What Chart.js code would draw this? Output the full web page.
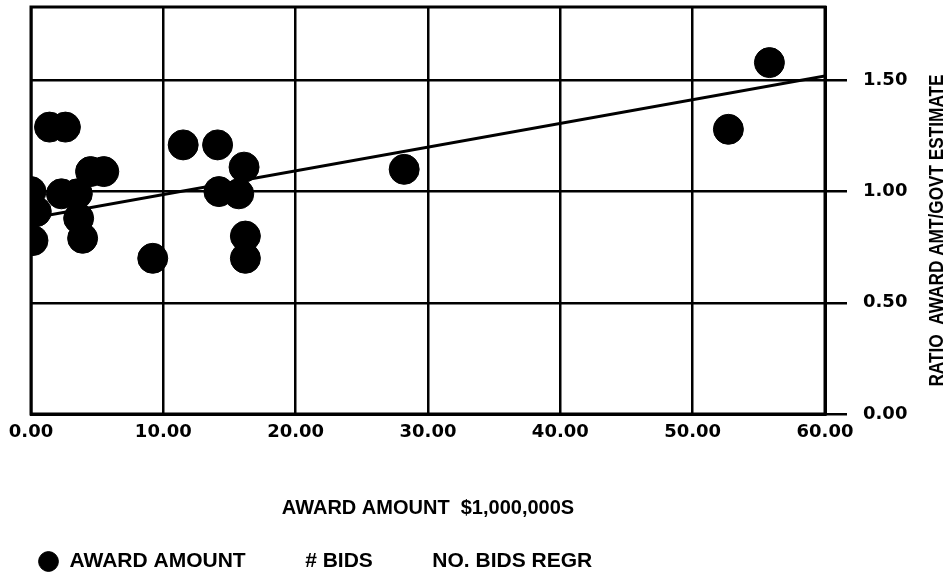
<!DOCTYPE html>
<html>
<head>
<meta charset="utf-8">
<script src="https://cdn.jsdelivr.net/npm/chart.js@4.4.1/dist/chart.umd.min.js"></script>
<style>
  html, body { margin: 0; padding: 0; background: #fff; }
  #wrap { width: 949px; height: 578px; }
</style>
</head>
<body>
<div id="wrap"><canvas id="grafico"></canvas></div>
<script>
// award amount in $1,000,000s and ratio award/govt estimate
const awardAmount = [0.0, 0.4, 0.15, 2.3, 3.5, 3.6, 3.9, 4.5, 5.5, 1.4, 2.6, 9.2, 11.5, 14.1, 16.1, 14.2, 15.7, 16.2, 16.2, 28.2, 52.7, 55.8];
const ratio       = [1.00, 0.91, 0.78, 0.99, 0.99, 0.88, 0.79, 1.09, 1.09, 1.29, 1.29, 0.70, 1.21, 1.21, 1.11, 1.00, 0.99, 0.80, 0.70, 1.10, 1.28, 1.58];
const regrX = [0, 60];
const regrY = [0.88, 1.52];
const xTicks = [0, 10, 20, 30, 40, 50, 60];
const yTicks = [0, 0.5, 1.0, 1.5];
const yTitle = 'RATIO  AWARD AMT/GOVT ESTIMATE';
const xTitle = 'AWARD AMOUNT  $1,000,000S';

const puntos = awardAmount.map((x, i) => ({x: x, y: ratio[i]}));
const regr = regrX.map((x, i) => ({x: x, y: regrY[i]}));

Chart.defaults.color = '#000';
Chart.defaults.font.family = "'Liberation Sans', Arial, sans-serif";

const marco = {
    id: 'marco',
    afterDatasetsDraw(chart) {
        const {ctx, chartArea: a} = chart;
        ctx.save();
        ctx.strokeStyle = '#000';
        ctx.lineWidth = 3;
        ctx.strokeRect(a.left, a.top, a.right - a.left, a.bottom - a.top);
        ctx.restore();
    },
    afterDraw(chart) {
        // right side title reads bottom to top, condensed
        const s = chart.scales.y;
        const ctx = chart.ctx;
        ctx.save();
        ctx.translate(s.right - 12, (s.top + s.bottom) / 2 + 20);
        ctx.rotate(-Math.PI / 2);
        ctx.scale(0.82, 1);
        ctx.font = "bold 21px 'Liberation Sans', sans-serif";
        ctx.fillStyle = '#000';
        ctx.textAlign = 'center';
        ctx.textBaseline = 'middle';
        ctx.fillText(yTitle, 0, 0);
        ctx.restore();
    }
};

const sinRelleno = (s) => { s.paddingTop = 0; s.paddingBottom = 0; };

new Chart(document.getElementById('grafico'), {
    type: 'scatter',
    data: {
        datasets: [{
            label: 'AWARD AMOUNT',
            data: puntos,
            xAxisID: 'x',
            yAxisID: 'y',
            backgroundColor: '#000',
            borderColor: '#000',
            pointRadius: 15,
            pointHoverRadius: 15,
            pointStyle: 'circle'
        }, {
            label: '# BIDS',
            data: [],
            xAxisID: 'x',
            yAxisID: 'y',
            backgroundColor: '#000',
            borderColor: '#000'
        }, {
            type: 'line',
            label: 'NO. BIDS REGR',
            data: regr,
            xAxisID: 'x',
            yAxisID: 'y',
            borderColor: '#000',
            borderWidth: 3,
            pointRadius: 0,
            fill: false
        }]
    },
    plugins: [marco],
    options: {
        responsive: true,
        maintainAspectRatio: false,
        animation: false,
        layout: {autoPadding: false, padding: {left: 10, right: 0, top: 7, bottom: -4}},
        plugins: {
            tooltip: {enabled: false},
            legend: {
                position: 'bottom',
                align: 'start',
                labels: {
                    usePointStyle: true,
                    boxWidth: 22,
                    boxHeight: 14,
                    padding: 28,
                    font: {size: 21, weight: 'bold'},
                    generateLabels(chart) {
                        const items = Chart.defaults.plugins.legend.labels.generateLabels(chart);
                        return items.map((it, i) => {
                            it.pointStyle = 'circle';
                            if (i > 0) {
                                it.fillStyle = 'rgba(0,0,0,0)';
                                it.strokeStyle = 'rgba(0,0,0,0)';
                            } else {
                                it.fillStyle = '#000';
                                it.strokeStyle = '#000';
                            }
                            return it;
                        });
                    }
                }
            }
        },
        scales: {
            x: {
                type: 'linear',
                min: 0,
                max: 60,
                afterBuildTicks: (s) => { s.ticks = xTicks.map(v => ({value: v})); },
                afterFit: (s) => { s.height = 109; },
                grid: {color: '#000', lineWidth: 2.5, drawTicks: false},
                border: {color: '#000', width: 3},
                ticks: {
                    padding: 8,
                    maxRotation: 0,
                    font: {family: "'DejaVu Sans', sans-serif", size: 18, weight: 'bold'},
                    callback: (v) => v.toFixed(2)
                },
                title: {
                    display: true,
                    text: xTitle,
                    font: {size: 20, weight: 'bold'},
                    padding: {top: 0, bottom: 3}
                }
            },
            pad: {
                type: 'linear',
                position: 'left',
                display: true,
                grid: {display: false},
                border: {display: false},
                ticks: {display: false},
                afterFit: (s) => { s.width = 21; sinRelleno(s); }
            },
            y: {
                type: 'linear',
                position: 'right',
                min: 0,
                max: 1.83,
                afterBuildTicks: (s) => { s.ticks = yTicks.map(v => ({value: v})); },
                afterFit: (s) => { s.width = 124; sinRelleno(s); },
                grid: {color: '#000', lineWidth: 2.5, tickLength: 22},
                border: {color: '#000', width: 3},
                ticks: {
                    padding: 16,
                    font: {family: "'DejaVu Sans', sans-serif", size: 18, weight: 'bold'},
                    callback: (v) => v.toFixed(2)
                }
            }
        }
    }
});
</script>
</body>
</html>
